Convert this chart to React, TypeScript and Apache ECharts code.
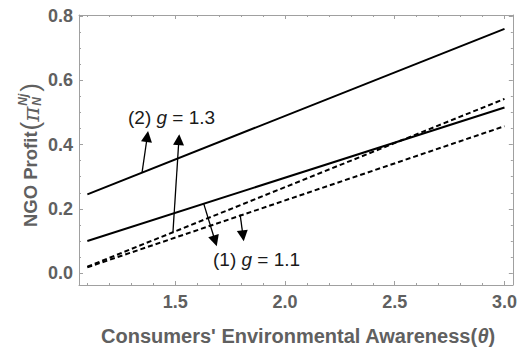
import React, { useEffect, useRef } from "react";
import * as echarts from "echarts";

// ---- data ----
const thetaRange = [1.1, 3.0];
const g13Solid = [0.245, 0.76];
const g11Solid = [0.1, 0.515];
const g13Dashed = [0.02, 0.542];
const g11Dashed = [0.018, 0.457];

const xTickLabels = ["1.5", "2.0", "2.5", "3.0"];
const yTickLabels = ["0.0", "0.2", "0.4", "0.6", "0.8"];

// annotation arrows: [tail, head] in data units
const arrowsG13 = [
  [[1.349, 0.312], [1.373, 0.425]],
  [[1.49, 0.128], [1.517, 0.415]],
];
const arrowsG11 = [
  [[1.63, 0.216], [1.682, 0.1]],
  [[1.796, 0.182], [1.809, 0.116]],
];

const FONT = "'Liberation Sans', Arial, sans-serif";
const AXIS_GRAY = "#a0a0a0";
const LABEL_GRAY = "#606060";

function pairs(xs: number[], ys: number[]) {
  return xs.map((x, i) => [x, ys[i]]);
}

function fmt(labels: string[]) {
  return (v: number) => {
    const hit = labels.find((l) => Math.abs(parseFloat(l) - v) < 1e-6);
    return hit ?? "";
  };
}

function measure(text: string, font: string) {
  const c = document.createElement("canvas").getContext("2d");
  if (!c) return text.length * 9;
  c.font = font;
  return c.measureText(text).width;
}

export default function App() {
  const ref = useRef<HTMLDivElement>(null);
  useEffect(() => {
    if (!ref.current) return;
    const chart = echarts.init(ref.current, undefined, { renderer: "svg" });
    const xCommon = {
      type: "value" as const,
      min: 1.062,
      max: 3.038,
      minInterval: 0.5,
      maxInterval: 0.5,
      axisLine: { show: true, onZero: false, lineStyle: { color: AXIS_GRAY, width: 1 } },
      axisTick: { show: true, inside: true, length: 4, lineStyle: { color: AXIS_GRAY } },
      minorTick: { show: true, splitNumber: 5, length: 2, lineStyle: { color: AXIS_GRAY } },
      splitLine: { show: false },
      minorSplitLine: { show: false },
    };
    const yCommon = {
      type: "value" as const,
      min: -0.037,
      max: 0.803,
      minInterval: 0.2,
      maxInterval: 0.2,
      axisLine: { show: true, onZero: false, lineStyle: { color: AXIS_GRAY, width: 1 } },
      axisTick: { show: true, inside: true, length: 4, lineStyle: { color: AXIS_GRAY } },
      minorTick: { show: true, splitNumber: 4, length: 2, lineStyle: { color: AXIS_GRAY } },
      splitLine: { show: false },
      minorSplitLine: { show: false },
    };
    const lineSeries = (data: number[], dashed: boolean) => ({
      type: "line" as const,
      data: pairs(thetaRange, data),
      showSymbol: false,
      symbol: "none",
      lineStyle: { color: "#000", width: 2, type: dashed ? [5, 3] : "solid" },
      z: 3,
    });
    const arrowSeries = (arrs: number[][][]) => ({
      type: "lines" as const,
      coordinateSystem: "cartesian2d",
      polyline: false,
      symbol: ["none", "triangle"],
      symbolSize: [9, 11],
      lineStyle: { color: "#000", width: 1.3, opacity: 1, curveness: 0 },
      itemStyle: { color: "#000" },
      data: arrs.map((c) => ({ coords: c })),
      z: 4,
    });
    const annot = (text: string, x: number, y: number) => ({
      type: "text",
      x,
      y,
      style: {
        text,
        font: `19px ${FONT}`,
        fill: "#1a1a1a",
        align: "left",
        verticalAlign: "middle",
        rich: { i: { fontStyle: "italic", fontSize: 19, fontFamily: FONT, fill: "#1a1a1a" } },
      },
    });

    // y-axis title pieces laid out from measured widths
    const fMain = `bold 18.5px ${FONT}`;
    const fParen = `26px ${FONT}`;
    const fPi = `italic 23px 'DejaVu Serif', serif`;
    const fScript = `italic bold 12px ${FONT}`;
    const xParen = measure("NGO Profit", fMain) + 1;
    const xPi = xParen + measure("(", fParen);
    const xScript = xPi + measure("π", fPi) + 1;
    const xClose = xScript + Math.max(measure("Nj", fScript), measure("N", fScript)) + 2;

    chart.setOption({
      animation: false,
      grid: { left: 79, right: 3, top: 15, bottom: 62, containLabel: false },
      xAxis: [
        {
          ...xCommon,
          position: "bottom",
          axisLabel: {
            show: true,
            formatter: fmt(xTickLabels),
            fontFamily: FONT,
            fontSize: 18,
            fontWeight: "bold",
            color: LABEL_GRAY,
            margin: 8,
          },
        },
        { ...xCommon, position: "top", axisLabel: { show: false } },
      ],
      yAxis: [
        {
          ...yCommon,
          position: "left",
          axisLabel: {
            show: true,
            formatter: fmt(yTickLabels),
            fontFamily: FONT,
            fontSize: 18,
            fontWeight: "bold",
            color: LABEL_GRAY,
            margin: 6,
          },
        },
        { ...yCommon, position: "right", axisLabel: { show: false } },
      ],
      series: [
        lineSeries(g13Solid, false),
        lineSeries(g11Solid, false),
        lineSeries(g13Dashed, true),
        lineSeries(g11Dashed, true),
        arrowSeries(arrowsG13),
        arrowSeries(arrowsG11),
      ],
      graphic: [
        {
          type: "text",
          x: 298,
          y: 336,
          style: {
            text: "Consumers' Environmental Awareness({i|θ})",
            font: `bold 20px ${FONT}`,
            fill: LABEL_GRAY,
            align: "center",
            verticalAlign: "middle",
            rich: {
              i: { fontStyle: "italic", fontWeight: "bold", fontSize: 20, fontFamily: FONT, fill: LABEL_GRAY },
            },
          },
        },
        {
          type: "group",
          x: 30,
          y: 227,
          rotation: Math.PI / 2,
          children: [
            { type: "text", x: 0, y: 0, style: { text: "NGO Profit", font: fMain, fill: LABEL_GRAY, align: "left", verticalAlign: "middle" } },
            { type: "text", x: xParen, y: 0, style: { text: "(", font: fParen, fill: LABEL_GRAY, align: "left", verticalAlign: "middle" } },
            { type: "text", x: xPi, y: 1, style: { text: "π", font: fPi, fill: LABEL_GRAY, align: "left", verticalAlign: "middle" } },
            { type: "text", x: xScript, y: -7, style: { text: "Nj", font: fScript, fill: LABEL_GRAY, align: "left", verticalAlign: "middle" } },
            { type: "text", x: xScript, y: 7, style: { text: "N", font: fScript, fill: LABEL_GRAY, align: "left", verticalAlign: "middle" } },
            { type: "text", x: xClose, y: 0, style: { text: ")", font: fParen, fill: LABEL_GRAY, align: "left", verticalAlign: "middle" } },
          ],
        },
        annot("(2) {i|g} = 1.3", 128, 117),
        annot("(1) {i|g} = 1.1", 213, 259),
      ],
    });
    return () => chart.dispose();
  }, []);
  return <div ref={ref} style={{ position: "absolute", left: 0, top: 0, width: 520, height: 347 }} />;
}
